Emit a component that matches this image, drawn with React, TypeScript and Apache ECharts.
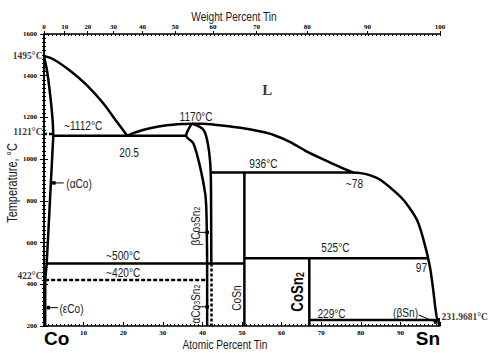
import React, { useEffect, useRef } from 'react';
import * as echarts from 'echarts';

type P = [number, number];

// ---- axes ----
const TEMP_MIN = 200;
const TEMP_MAX = 1600;
const TEMP_STEP = 200;
const AT_MIN = 0;
const AT_MAX = 100;
const AT_STEP = 10;
const weightTicks = [0, 10, 20, 30, 40, 50, 60, 70, 80, 90, 100];
const CO_MASS = 58.933;
const SN_MASS = 118.71;

// ---- phase boundaries: [atomic % Sn, °C] ----
const liquidusCo: P[] = [[0, 1495], [2.35, 1479], [6.6, 1424], [10.8, 1355], [14.9, 1269], [18.4, 1179], [21, 1112]];
const solidusAlphaCo: P[] = [[0, 1495], [0.8, 1420], [1.7, 1284], [2.2, 1180], [2.35, 1112]];
const solvusAlphaCo: P[] = [[2.35, 1112], [1.5, 800], [0.68, 500], [0.3, 422]];
const boundaryEpsCo: P[] = [[0.3, 422], [0.3, 200]];
const curieLine: P[] = [[0, 1121], [2.35, 1121]];
const eutecticLine: P[] = [[2.35, 1112], [35.9, 1112]];
const liquidusMidLeft: P[] = [[21, 1112], [23, 1128], [26.8, 1148], [31, 1162], [35.7, 1169], [37.3, 1170]];
const liquidusRight: P[] = [
  [37.3, 1170], [40, 1170], [43.7, 1164], [49.6, 1150], [55, 1131], [58, 1116], [62.2, 1082], [66.4, 1036],
  [72, 986], [76, 952], [78.2, 936], [80, 933], [82.4, 922], [85, 900], [90, 820], [92.1, 772], [94.2, 708],
  [95.5, 636], [96.5, 565], [97, 525], [97.6, 468], [98.3, 372], [98.9, 277], [99.4, 232], [100, 231.97],
];
const betaLeft: P[] = [[37.3, 1170], [35.9, 1112], [37.7, 1076], [39.4, 964], [40.7, 836], [41.0, 756], [41.15, 600], [41.2, 500]];
const betaRight: P[] = [[37.3, 1170], [40.3, 1140], [41.5, 1060], [42.1, 936], [42.2, 756], [42.25, 500]];
const alphaLeft: P[] = [[41.2, 500], [41.2, 200]];
const alphaRight: P[] = [[42.3, 500], [42.3, 200]];
const line936: P[] = [[42.1, 936], [78.2, 936]];
const line500: P[] = [[0.68, 500], [50.6, 500]];
const line420: P[] = [[0.3, 420], [41.2, 420]];
const line525: P[] = [[50.6, 525], [97, 525]];
const line229: P[] = [[67, 229], [99.4, 229]];
const coSnLine: P[] = [[50.6, 936], [50.6, 200]];
const coSn2Line: P[] = [[67, 525], [67, 200]];
const betaSnLine: P[] = [[99.6, 229], [99.8, 200]];

// leader lines (first point carries the small square)
const leaderAlphaCo: P[] = [[2.5, 886], [5.0, 886]];
const leaderEpsCo: P[] = [[1.1, 288], [3.5, 288]];
const leaderBetaCo3Sn2: P[] = [[41.2, 649], [38.9, 649]];
const leaderAlphaCo3Sn2: P[] = [[41.2, 292], [38.9, 292]];
const leaderBetaSn: P[] = [[98.9, 219], [94.6, 253]];

// ---- annotations (anchored in data coordinates) ----
const plainLabels: { text: string; at: number; t: number }[] = [
  { text: '~1112°C', at: 9.9, t: 1164 },
  { text: '20.5', at: 21.5, t: 1034 },
  { text: '1170°C', at: 38.4, t: 1207 },
  { text: '936°C', at: 55.4, t: 981 },
  { text: '~78', at: 78.4, t: 886 },
  { text: '(αCo)', at: 8.85, t: 886 },
  { text: '~500°C', at: 20, t: 540 },
  { text: '~420°C', at: 20, t: 459 },
  { text: '525°C', at: 73.6, t: 579 },
  { text: '97', at: 95.3, t: 483 },
  { text: '229°C', at: 72.6, t: 262 },
  { text: '(βSn)', at: 91.3, t: 267 },
  { text: '(εCo)', at: 6.95, t: 288 },
];
const rotatedLabels: { text: string; at: number; t: number }[] = [
  { text: '{n|βCo}{s|3}{n|Sn}{s|2}', at: 37.9, t: 679 },
  { text: '{n|αCo}{s|3}{n|Sn}{s|2}', at: 37.9, t: 305 },
  { text: '{n|CoSn}', at: 48.3, t: 334 },
  { text: '{b|CoSn}{bs|2}', at: 63.7, t: 363 },
];
const phaseLabel = { text: 'L', at: 56.4, t: 1331 };
const axisNotes: { text: string; at: number; t: number; side: 'left' | 'right' }[] = [
  { text: '1495°C', at: 0, t: 1495, side: 'left' },
  { text: '1121°C', at: 0, t: 1132, side: 'left' },
  { text: '422°C', at: 0, t: 438, side: 'left' },
  { text: '231.9681°C', at: 100, t: 245, side: 'right' },
];

const SERIF = "'Liberation Serif', 'Times New Roman', serif";
const SANS = "'Liberation Sans', Arial, sans-serif";
const NARROW_SCALE = 0.78;
const TEXT_COLOR = '#1a1a1a';

const wtToAt = (w: number) => {
  const a = w / SN_MASS;
  const b = (100 - w) / CO_MASS;
  return (100 * a) / (a + b);
};
const weightTickPos = weightTicks.map(wtToAt);

function boundary(data: P[], opts: { smooth?: number; dash?: any; width?: number } = {}) {
  return {
    type: 'line',
    xAxisIndex: 0,
    yAxisIndex: 0,
    data,
    symbol: 'none',
    showSymbol: false,
    smooth: opts.smooth ?? false,
    silent: true,
    clip: false,
    z: 3,
    lineStyle: { color: '#000', width: opts.width ?? 2.5, type: opts.dash ?? 'solid', cap: 'butt', join: 'round' },
  };
}

function leader(data: P[]) {
  return {
    type: 'line',
    xAxisIndex: 0,
    yAxisIndex: 0,
    symbol: 'none',
    showSymbol: true,
    silent: true,
    z: 4,
    data: [
      { value: data[0], symbol: 'rect', symbolSize: 3.5, itemStyle: { color: '#000' } },
      { value: data[1], symbol: 'none' },
    ],
    lineStyle: { color: '#000', width: 1 },
  };
}

const smallTick = { fontFamily: SERIF, fontWeight: 'bold' as const, fontSize: 7, color: '#000' };

const option: any = {
  animation: false,
  backgroundColor: '#fff',
  grid: { left: 44, right: 50, top: 34, bottom: 27, containLabel: false },
  xAxis: [
    {
      type: 'value',
      position: 'bottom',
      min: AT_MIN,
      max: AT_MAX,
      interval: AT_STEP,
      axisLine: { show: true, lineStyle: { color: '#000', width: 1.5 } },
      axisTick: { show: true, inside: true, length: 4, lineStyle: { color: '#000', width: 1 } },
      minorTick: { show: true, splitNumber: 10, length: 2, lineStyle: { color: '#000', width: 1 } },
      splitLine: { show: false },
      axisLabel: {
        margin: 3,
        alignMinLabel: 'left',
        alignMaxLabel: 'right',
        formatter: (v: number) => (v === AT_MIN ? '{big|Co}' : v === AT_MAX ? '{big|Sn}' : '{sm|' + v + '}'),
        rich: {
          sm: { ...smallTick, lineHeight: 9, verticalAlign: 'top' },
          big: { fontFamily: SANS, fontWeight: 'bold', fontSize: 19, color: '#000', lineHeight: 20, verticalAlign: 'top' },
        },
      },
    },
    {
      type: 'value',
      position: 'top',
      min: AT_MIN,
      max: AT_MAX,
      interval: 1,
      axisLine: { show: true, lineStyle: { color: '#000', width: 1.5 } },
      axisTick: { show: true, inside: true, length: 2, lineStyle: { color: '#000', width: 1 } },
      axisLabel: { show: false },
      splitLine: { show: false },
    },
    {
      type: 'value',
      position: 'top',
      min: AT_MIN,
      max: AT_MAX,
      axisLine: { show: false },
      axisTick: { show: true, inside: false, length: 3, customValues: weightTickPos, lineStyle: { color: '#000', width: 1 } },
      axisLabel: {
        ...smallTick,
        margin: 4,
        customValues: weightTickPos,
        formatter: (v: number) => {
          const i = weightTickPos.findIndex((p) => Math.abs(p - v) < 1e-6);
          return i >= 0 ? String(weightTicks[i]) : '';
        },
      },
      splitLine: { show: false },
    },
  ],
  yAxis: [
    {
      type: 'value',
      position: 'left',
      min: TEMP_MIN,
      max: TEMP_MAX,
      interval: TEMP_STEP,
      axisLine: { show: true, lineStyle: { color: '#000', width: 1.5 } },
      axisTick: { show: true, inside: false, length: 4, lineStyle: { color: '#000', width: 1 } },
      minorTick: { show: true, splitNumber: 10, length: 2, lineStyle: { color: '#000', width: 1 } },
      splitLine: { show: false },
      axisLabel: { ...smallTick, margin: 7, formatter: (v: number) => String(v) },
    },
    {
      type: 'value',
      position: 'right',
      min: TEMP_MIN,
      max: TEMP_MAX,
      interval: TEMP_STEP,
      axisLine: { show: true, lineStyle: { color: '#000', width: 1.5 } },
      axisTick: { show: true, inside: false, length: 4, lineStyle: { color: '#000', width: 1 } },
      minorTick: { show: true, splitNumber: 10, length: 2, lineStyle: { color: '#000', width: 1 } },
      splitLine: { show: false },
      axisLabel: { show: false },
    },
  ],
  series: [
    boundary(liquidusCo, { smooth: 0.3 }),
    boundary(solidusAlphaCo, { smooth: 0.3 }),
    boundary(solvusAlphaCo, { smooth: 0.2 }),
    boundary(boundaryEpsCo),
    boundary(curieLine, { dash: [3, 2] }),
    boundary(eutecticLine),
    boundary(liquidusMidLeft, { smooth: 0.3 }),
    boundary(liquidusRight, { smooth: 0.3 }),
    boundary(betaLeft, { smooth: 0.3 }),
    boundary(betaRight, { smooth: 0.3 }),
    boundary(alphaLeft),
    boundary(alphaRight, { dash: [3, 2] }),
    boundary(line936),
    boundary(line500),
    boundary(line420, { dash: [4, 2] }),
    boundary(line525),
    boundary(line229),
    boundary(coSnLine),
    boundary(coSn2Line),
    boundary(betaSnLine),
    leader(leaderAlphaCo),
    leader(leaderEpsCo),
    leader(leaderBetaCo3Sn2),
    leader(leaderAlphaCo3Sn2),
    leader(leaderBetaSn),
    {
      type: 'scatter',
      xAxisIndex: 0,
      yAxisIndex: 0,
      symbolSize: 1,
      silent: true,
      clip: false,
      z: 6,
      itemStyle: { color: 'rgba(0,0,0,0)' },
      label: { show: true, position: 'inside', color: '#000', fontFamily: SERIF, fontWeight: 'bold', fontSize: 15 },
      data: [{ value: [phaseLabel.at, phaseLabel.t], label: { formatter: phaseLabel.text } }],
    },
    {
      type: 'scatter',
      xAxisIndex: 0,
      yAxisIndex: 0,
      symbolSize: 1,
      silent: true,
      clip: false,
      z: 6,
      itemStyle: { color: 'rgba(0,0,0,0)' },
      label: { show: true, color: '#000', fontFamily: SERIF, fontWeight: 'bold', fontSize: 9.5, distance: 1 },
      data: axisNotes.map((l) => ({ value: [l.at, l.t], label: { formatter: l.text, position: l.side } })),
    },
  ],
};

const richStyles = {
  n: { fontFamily: SANS, fontSize: 13, fill: TEXT_COLOR, lineHeight: 15, verticalAlign: 'bottom' },
  s: { fontFamily: SANS, fontSize: 9, fill: TEXT_COLOR, lineHeight: 7, verticalAlign: 'bottom' },
  b: { fontFamily: SANS, fontWeight: 'bold', fontSize: 17, fill: '#000', lineHeight: 19, verticalAlign: 'bottom' },
  bs: { fontFamily: SANS, fontWeight: 'bold', fontSize: 11, fill: '#000', lineHeight: 9, verticalAlign: 'bottom' },
};

function narrowText(x: number, y: number, text: string, size: number, rotation = 0, rich = false) {
  return {
    type: 'text',
    x,
    y,
    rotation,
    scaleX: NARROW_SCALE,
    silent: true,
    z: 10,
    style: {
      text,
      fontFamily: SANS,
      fontSize: size,
      fill: TEXT_COLOR,
      textAlign: 'center',
      textVerticalAlign: 'middle',
      ...(rich ? { rich: richStyles } : {}),
    },
  };
}

export default function App() {
  const ref = useRef<HTMLDivElement>(null);
  useEffect(() => {
    if (!ref.current) return;
    const chart = echarts.init(ref.current, null, { renderer: 'svg' });
    chart.setOption(option);
    const px = (at: number, t: number) => chart.convertToPixel({ seriesIndex: 0 }, [at, t]) as number[];
    const graphics: any[] = [
      narrowText(234, 16, 'Weight Percent Tin', 13),
      narrowText(225, 344, 'Atomic Percent Tin', 13),
      narrowText(13, 183, 'Temperature, °C', 14, Math.PI / 2),
    ];
    plainLabels.forEach((l) => {
      const [x, y] = px(l.at, l.t);
      graphics.push(narrowText(x, y, l.text, 13));
    });
    rotatedLabels.forEach((l) => {
      const [x, y] = px(l.at, l.t);
      graphics.push(narrowText(x, y, l.text, 13, Math.PI / 2, true));
    });
    chart.setOption({ graphic: graphics });
    return () => chart.dispose();
  }, []);
  return (
    <div
      ref={ref}
      style={{ position: 'fixed', left: 0, top: 0, width: 490, height: 353, background: '#fff' }}
    />
  );
}
